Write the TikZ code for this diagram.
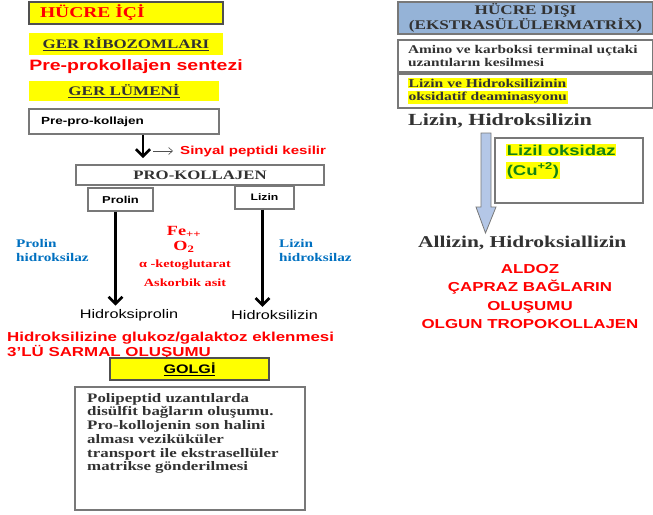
\documentclass[tikz,border=0pt]{standalone}
\usepackage{fontspec}
\setmainfont[FakeStretch=1.3]{Liberation Serif}
\newfontfamily\arialfont[FakeStretch=1.3]{Liberation Sans}
\usepackage{xcolor}
\usepackage{tikz}
\usetikzlibrary{arrows.meta}

\definecolor{hred}{RGB}{255,0,0}
\definecolor{hblue}{RGB}{0,112,192}
\definecolor{hgreen}{RGB}{20,130,20}
\definecolor{hiyellow}{RGB}{255,255,0}
\definecolor{titlegray}{RGB}{50,50,50}
\definecolor{framegray}{RGB}{120,120,120}
\definecolor{darkframe}{RGB}{80,80,80}
\definecolor{disiblue}{RGB}{149,179,215}
\definecolor{arrowblue}{RGB}{180,199,231}

\newcommand\sz[2]{\fontsize{#1}{#2}\selectfont}
\newcommand\hlbox[1]{{\setlength\fboxsep{0.6pt}\colorbox{hiyellow}{#1}}}

\tikzset{
  frame/.style={draw=framegray, line width=1.1pt, fill=white, inner sep=0pt},
  yellowbar/.style={fill=hiyellow, inner sep=0pt},
  bigarrow/.style={line width=2.6pt, -{Straight Barb[length=7pt,width=14pt]}},
  thinarrow/.style={line width=0.6pt, darkframe, -{Straight Barb[length=4pt,width=7pt]}},
  redsans/.style={text=hred, font={\arialfont\bfseries\sz{#1}{#1}}},
  bluelab/.style={text=hblue, font={\bfseries\sz{11.7}{14}}, align=left, anchor=west, inner sep=0pt}
}

\begin{document}
\begin{tikzpicture}[x=1pt, y=-1pt]
\useasboundingbox (0,0) rectangle (653,514);

% inside the cell
\node[frame, fill=hiyellow, draw=darkframe, minimum width=194pt, minimum height=22pt,
  text width=172pt, inner xsep=11pt, align=left, text=hred, font={\bfseries\sz{15}{16}}] (ici) at (126,13) {HÜCRE İÇİ};
\node[yellowbar, minimum width=194pt, minimum height=22pt, text=titlegray, font={\bfseries\sz{13}{14}}] (ribo) at (126,44) {\underline{GER RİBOZOMLARI}};
\node[redsans=15] (sentez) at (136,67) {Pre-prokollajen sentezi};
\node[yellowbar, minimum width=190pt, minimum height=20pt, text=titlegray, font={\bfseries\sz{13.1}{14}}] (lumen) at (124,91) {\underline{GER LÜMENİ}};
\node[frame, minimum width=190pt, minimum height=25pt, text width=166pt, inner xsep=12pt, align=left,
  font={\arialfont\bfseries\sz{10.4}{12}}] (prepro) at (124,121.5) {Pre-pro-kollajen};

% signal peptide cut
\coordinate (cut) at (143,158);
\draw[bigarrow] (prepro.south -| cut) -- (cut);
\coordinate (sy) at (153,151);
\node[redsans=11.6, anchor=west, inner sep=0pt] (sinyal) at (180,151) {Sinyal peptidi kesilir};
\draw[thinarrow] (sy) -- ([xshift=-7pt]sinyal.west);

% pro-collagen and hydroxylation
\node[frame, minimum width=248pt, minimum height=20pt, text=titlegray, font={\bfseries\sz{12.9}{14}}] (prokol) at (200,175) {PRO-KOLLAJEN};
\node[frame, minimum width=65pt, minimum height=23pt, font={\arialfont\bfseries\sz{10}{12}}] (prolin) at (120.5,199.5) {Prolin};
\node[frame, minimum width=59pt, minimum height=23pt, font={\arialfont\bfseries\sz{9.4}{11}}] (lizin) at (264.5,197.5) {Lizin};
\node[font={\arialfont\sz{12.5}{14}}] (hyp) at (129,315) {Hidroksiprolin};
\node[font={\arialfont\sz{12.5}{14}}] (hyl) at (274.5,315) {Hidroksilizin};
\draw[bigarrow] ([xshift=-5pt]prolin.south) -- ([xshift=-5pt]prolin.south |- hyp.north);
\draw[bigarrow] ([xshift=-2pt]lizin.south) -- ([xshift=-2pt]lizin.south |- hyl.north);

\node[bluelab] (prohyd) at (16,250) {Prolin\\hidroksilaz};
\node[bluelab] (lizhydr) at (279,250) {Lizin\\hidroksilaz};

% cofactors
\node[text=hred, font={\bfseries\sz{14}{14}}] (fe) at (184,232) {Fe\textsubscript{++}};
\node[text=hred, font={\bfseries\sz{14}{14}}] (otwo) at (184,247) {O\textsubscript{2}};
\node[text=hred, font={\bfseries\sz{11}{12}}] (keto) at (185,265) {α -ketoglutarat};
\node[text=hred, font={\bfseries\sz{11}{12}}] (askor) at (185,283) {Askorbik asit};

\node[redsans=13, anchor=west, inner sep=0pt, align=left, font={\arialfont\bfseries\sz{13}{13.2}}] (glukoz) at (7,345.5)
  {Hidroksilizine glukoz/galaktoz eklenmesi\\3’LÜ SARMAL OLUŞUMU};

% golgi
\node[frame, fill=hiyellow, draw=darkframe, minimum width=159pt, minimum height=22pt,
  font={\arialfont\bfseries\sz{12.4}{14}}] (golgi) at (189.5,369) {\underline{GOLGİ}};
\node[frame, minimum width=230pt, minimum height=123pt] (polibox) at (190,448.5) {};
\node[anchor=north west, inner sep=0pt, align=left, text=titlegray, font={\bfseries\sz{13}{13.7}}] (politext) at (87,393)
  {Polipeptid uzantılarda\\disülfit bağların oluşumu.\\Pro-kollojenin son halini\\alması veziküküler\\transport ile ekstrasellüler\\matrikse gönderilmesi};

% outside the cell
\node[frame, fill=disiblue, minimum width=255pt, minimum height=32pt, align=center, text=titlegray,
  font={\bfseries\sz{13.2}{13}}] (disi) at (525.5,18) {HÜCRE DIŞI\\(EKSTRASÜLÜLERMATRİX)};
\node[frame, minimum width=255pt, minimum height=32pt, text width=235pt, align=left, text=titlegray,
  font={\bfseries\sz{11.8}{12.5}}] (amino) at (525.5,56) {Amino ve karboksi terminal uçtaki\\uzantıların kesilmesi};
\node[frame, minimum width=255pt, minimum height=34pt, text width=235pt, align=left, text=titlegray,
  font={\bfseries\sz{12}{13}}] (oksid) at (525.5,91) {\hlbox{Lizin ve Hidroksilizinin}\\\hlbox{oksidatif deaminasyonu}};
\node[anchor=west, inner sep=0pt, text=titlegray, font={\bfseries\sz{17}{18}}] (lizhyd) at (408,121) {Lizin, Hidroksilizin};

% lysyl oxidase step
\filldraw[fill=arrowblue, draw=framegray, line width=0.8pt]
  (481,133) -- (491,133) -- (491,207) -- (496,207) -- (485.5,233) -- (476,207) -- (481,207) -- cycle;
\node[frame, minimum width=148pt, minimum height=65pt] (lizbox) at (569,170.5) {};
\node[anchor=north west, inner sep=0pt, align=left, text=hgreen, font={\arialfont\bfseries\sz{14.2}{20}}] (lizil) at (506,144)
  {\hlbox{Lizil oksidaz}\\\hlbox{(Cu\textsuperscript{+2})}};

\node[anchor=west, inner sep=0pt, text=titlegray, font={\bfseries\sz{16.5}{18}}] (allhyd) at (418,243) {Allizin, Hidroksiallizin};
\node[redsans=13, align=center, font={\arialfont\bfseries\sz{13}{18.3}}] (aldoz) at (530,296.5)
  {ALDOZ\\ÇAPRAZ BAĞLARIN\\OLUŞUMU\\OLGUN TROPOKOLLAJEN};
\end{tikzpicture}
\end{document}
